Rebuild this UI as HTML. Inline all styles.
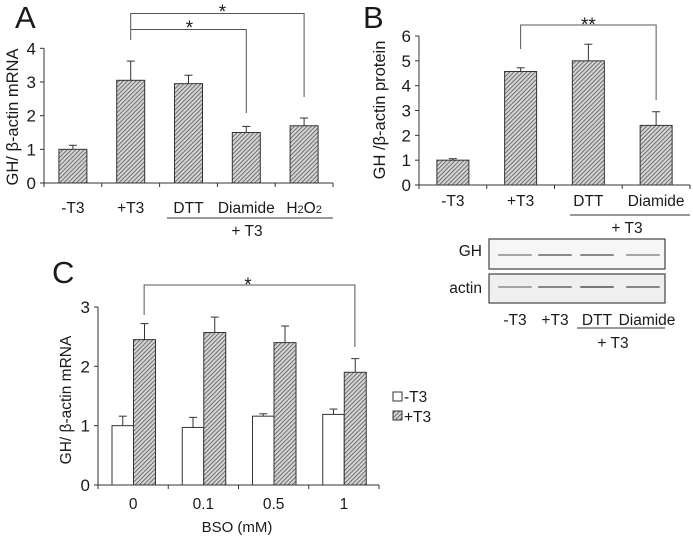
<!DOCTYPE html>
<html><head><meta charset="utf-8"><style>
body{margin:0;background:#fff}
svg{display:block;font-family:"Liberation Sans",Arial,sans-serif}
text{fill:#1a1a1a}
</style></head><body>
<svg id="fig" width="693" height="537" viewBox="0 0 693 537">
<defs>
<pattern id="hatch" patternUnits="userSpaceOnUse" width="3" height="3" patternTransform="rotate(45)">
<rect width="3" height="3" fill="#d4d4d4"/>
<line x1="0" y1="0" x2="0" y2="3" stroke="#505050" stroke-width="1.5"/>
</pattern>
</defs>
<g id="gA"></g>
<g id="gB"></g>
<g id="gC"></g>
</svg>
<script>
// Panel A data
const aCats = ["-T3","+T3","DTT","Diamide","H2O2"];
const aVals = [1.0, 3.05, 2.95, 1.5, 1.7];
const aErrs = [0.12, 0.57, 0.25, 0.18, 0.23];
const aTicks = [0,1,2,3,4];
// Panel B data
const bCats = ["-T3","+T3","DTT","Diamide"];
const bVals = [1.0, 4.57, 5.0, 2.4];
const bErrs = [0.06, 0.15, 0.67, 0.55];
const bTicks = [0,1,2,3,4,5,6];
// Panel C data
const cCats = ["0","0.1","0.5","1"];
const cMinus = [1.0, 0.97, 1.16, 1.19];
const cMinusErr = [0.16, 0.17, 0.04, 0.09];
const cPlus = [2.45, 2.57, 2.4, 1.9];
const cPlusErr = [0.27, 0.26, 0.28, 0.23];
const cTicks = [0,1,2,3];

const NS="http://www.w3.org/2000/svg";
function mk(parent,tag,attrs,txt){const e=document.createElementNS(NS,tag);for(const k in attrs)e.setAttribute(k,attrs[k]);if(txt!==undefined)e.textContent=txt;parent.appendChild(e);return e;}
function ln(p,x1,y1,x2,y2,c,w){return mk(p,'line',{x1,y1,x2,y2,stroke:c||'#333','stroke-width':w||1});}
function yScale(y0,ymaxPx,maxV){return v=>y0-(y0-ymaxPx)*v/maxV;}

function axes(g,x0,x1,y,ticks,nCats,fs){
  ln(g,x0,y(0),x1,y(0));
  ln(g,x0,y(ticks[ticks.length-1]),x0,y(0));
  ticks.forEach(t=>{
    ln(g,x0-4,y(t),x0,y(t));
    const tx=mk(g,'text',{x:x0-8,y:y(t)+6,'text-anchor':'end','font-size':fs},String(t));
    
    
  });
  const w=(x1-x0)/nCats;
  for(let i=0;i<=nCats;i++)ln(g,x0+i*w,y(0),x0+i*w,y(0)+4);
  return w;
}
function bar(g,x,w,v,e,y,fill,name){
  const r=mk(g,'rect',{x,y:y(v),width:w,height:y(0)-y(v),fill,stroke:'#333','stroke-width':1});
  
  
  const cx=x+w/2;
  const eb=ln(g,cx,y(v),cx,y(v+e));
  
  
  ln(g,cx-4,y(v+e),cx+4,y(v+e));
}
function label(g,x,y,s,fs,name,anchor){
  const t=mk(g,'text',{x,y,'font-size':fs,'text-anchor':anchor||'middle'},s);
  
  
  return t;
}

// ---------- Panel A ----------
(function(){
  const g=document.getElementById('gA');
  const x0=44,x1=333,y=yScale(183,48.3,4);
  const w=axes(g,x0,x1,y,aTicks,aCats.length,17);
  aCats.forEach((c,i)=>{
    const cx=x0+w*(i+0.5);
    bar(g,cx-14,28,aVals[i],aErrs[i],y,'url(#hatch)','bar-a-'+i);
    if(c==="H2O2"){
      const t=label(g,cx,213,'',15.5,'x-tick-label');
      t.innerHTML='H<tspan font-size="11">2</tspan>O<tspan font-size="11">2</tspan>';
    } else label(g,cx,213,c,15.5,'x-tick-label');
  });
  ln(g,167,218,333,218);
  label(g,247,236,'+ T3',15.5,'group-label');
  const xp=x0+w*1.5, xd=x0+w*3.5, xh=x0+w*4.5;
  const br=mk(g,'polyline',{points:`${xp},40 ${xp},13.5 ${xh},13.5 ${xh},97`,fill:'none',stroke:'#555','stroke-width':1});
  
  
  const br2=mk(g,'polyline',{points:`${xp},29.5 ${xd},29.5 ${xd},113`,fill:'none',stroke:'#555','stroke-width':1});
  
  
  label(g,(xp+xh)/2+5,18,'*',19,'significance-star');
  label(g,(xp+xd)/2+1,34,'*',19,'significance-star');
  const yl=label(g,0,0,'GH/ β-actin mRNA',16.5,'y-axis-title');
  yl.setAttribute('transform','translate(18,117) rotate(-90)');
  label(g,15,28,'A',31,'panel-label-a','start');
})();

// ---------- Panel B ----------
(function(){
  const g=document.getElementById('gB');
  const x0=419,x1=690,y=yScale(185,36,6);
  const w=axes(g,x0,x1,y,bTicks,bCats.length,17);
  bCats.forEach((c,i)=>{
    const cx=x0+w*(i+0.5);
    bar(g,cx-16,32,bVals[i],bErrs[i],y,'url(#hatch)','bar-b-'+i);
    label(g,cx,206,c,15.5,'x-tick-label');
  });
  ln(g,570,215,690,215);
  label(g,627,233,'+ T3',15.5,'group-label');
  const xp=x0+w*1.5, xd=x0+w*3.5;
  const br=mk(g,'polyline',{points:`${xp},49 ${xp},25 ${xd},25 ${xd},100`,fill:'none',stroke:'#555','stroke-width':1});
  
  
  label(g,(xp+xd)/2,31,'**',19,'significance-star');
  const yl=label(g,0,0,'GH /β-actin protein',16.5,'y-axis-title');
  yl.setAttribute('transform','translate(385,110) rotate(-90)');
  label(g,363,28,'B',31,'panel-label-b','start');
  const blot=mk(g,'g',{});
  
  
  mk(blot,'rect',{x:489,y:239,width:176,height:30,fill:'#f6f6f6',stroke:'#444','stroke-width':1.2});
  mk(blot,'rect',{x:489,y:274,width:176,height:29,fill:'#efefef',stroke:'#444','stroke-width':1.2});
  const lanes=[515,555,597,643];
  const gh=[1.5,2,2,1.5], ac=[1.3,1.8,2,1.8];
  lanes.forEach((lx,i)=>{
    mk(blot,'rect',{x:lx-17,y:255-gh[i]/2,width:34,height:gh[i],fill:'#8a8a8a',rx:1});
    mk(blot,'rect',{x:lx-17,y:287-ac[i]/2,width:34,height:ac[i],fill:'#777',rx:1});
  });
  label(g,482,256,'GH',15.5,'blot-label-gh','end');
  label(g,482,293,'actin',15.5,'blot-label-actin','end');
  ['-T3','+T3','DTT','Diamide'].forEach((s,i)=>label(g,lanes[i]+(i==3?4:0),325,s,15.5,'blot-lane-label'));
  ln(g,577,328,665,328);
  label(g,613,348,'+ T3',15.5,'group-label');
})();

// ---------- Panel C ----------
(function(){
  const g=document.getElementById('gC');
  const x0=98,x1=379,y=yScale(485,307,3);
  const w=axes(g,x0,x1,y,cTicks,cCats.length,17);
  cCats.forEach((c,i)=>{
    const cs=x0+w*i;
    bar(g,cs+14,21.5,cMinus[i],cMinusErr[i],y,'#fff','bar-c-minus-'+i);
    bar(g,cs+35.5,22,cPlus[i],cPlusErr[i],y,'url(#hatch)','bar-c-plus-'+i);
    label(g,cs+w/2,509,c,15.5,'x-tick-label');
  });
  label(g,237,532,'BSO (mM)',15,'x-axis-title');
  const xa=x0+w*0.5+11, xb=x0+w*3.5+11;
  const br=mk(g,'polyline',{points:`${xa},315 ${xa},285 ${xb},285 ${xb},347`,fill:'none',stroke:'#555','stroke-width':1});
  
  
  label(g,248,291,'*',19,'significance-star');
  const yl=label(g,0,0,'GH/ β-actin mRNA',15.5,'y-axis-title');
  yl.setAttribute('transform','translate(71,400) rotate(-90)');
  label(g,52,283,'C',31,'panel-label-c','start');
  const l1=mk(g,'rect',{x:393,y:392,width:9,height:9,fill:'#fff',stroke:'#333'});
  
  
  label(g,404,402,'-T3',15.5,'legend-entry','start');
  const l2=mk(g,'rect',{x:393,y:411,width:9,height:9,fill:'url(#hatch)',stroke:'#333'});
  
  
  label(g,404,422,'+T3',15.5,'legend-entry','start');
})();
</script>
</body></html>
